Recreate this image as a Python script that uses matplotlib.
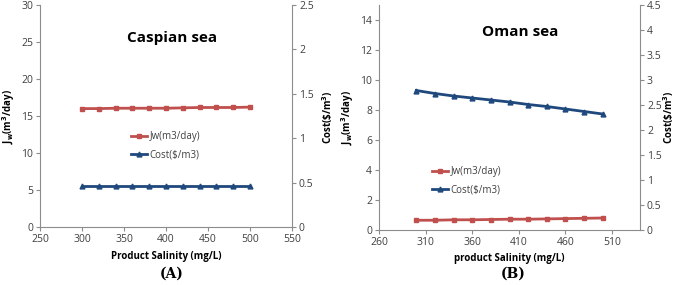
import numpy as np
import matplotlib
matplotlib.use("Agg")
from matplotlib import pyplot as plt

plt.rcParams['font.family'] = ['Open Sans', 'DejaVu Sans']

# salinity levels (mg/L)
salinity = [300, 320, 340, 360, 380, 400, 420, 440, 460, 480, 500]

# Caspian sea
caspian_jw = [16.0, 16.0, 16.05, 16.05, 16.05, 16.05, 16.1, 16.15, 16.15, 16.15, 16.2]
caspian_cost = [0.46, 0.46, 0.46, 0.46, 0.46, 0.46, 0.46, 0.46, 0.46, 0.46, 0.46]

# Oman sea
oman_jw = [0.65, 0.65, 0.68, 0.68, 0.70, 0.72, 0.72, 0.74, 0.76, 0.78, 0.80]
oman_cost = [2.79, 2.73, 2.68, 2.64, 2.60, 2.56, 2.51, 2.47, 2.42, 2.37, 2.32]

RED = "#C0504D"
BLUE = "#1F497D"
TICK_COLOR = "#404040"
SPINE_COLOR = "#8c8c8c"
W, H = 676, 285


def style_axis(ax):
    ax.spines["top"].set_visible(False)
    for side in ("left", "right", "bottom"):
        ax.spines[side].set_color(SPINE_COLOR)
        ax.spines[side].set_linewidth(0.8)
    ax.tick_params(direction="out", length=3, width=0.8, color=SPINE_COLOR,
                   labelsize=7.5, labelcolor=TICK_COLOR, pad=2)


def panel(rect, x, jw, cost, xlim, xticks, ylim1, yticks1, ylim2, yticks2,
          title, title_xy, xlabel, letter, letter_x, legend_xy, rlabel_x):
    ax1 = fig.add_axes(rect)
    ax2 = ax1.twinx()
    l1, = ax1.plot(x, jw, color=RED, lw=2, marker="s", ms=3.5, label="Jw(m3/day)")
    l2, = ax2.plot(x, cost, color=BLUE, lw=2, marker="^", ms=3.5, label="Cost($/m3)")
    ax1.set_xlim(*xlim)
    ax1.set_xticks(xticks)
    ax1.set_ylim(*ylim1)
    ax1.set_yticks(yticks1)
    ax2.set_ylim(*ylim2)
    ax2.set_yticks(yticks2)
    ax2.set_yticklabels([f"{v:g}" for v in yticks2])
    style_axis(ax1)
    style_axis(ax2)
    ax2.spines["left"].set_visible(False)
    ax2.spines["bottom"].set_visible(False)
    ax1.spines["right"].set_visible(False)
    ax1.set_xlabel(xlabel, fontsize=7, fontweight="bold", labelpad=4)
    ax1.set_ylabel(r"J$_\mathbf{w}$(m$^\mathbf{3}$/day)", fontsize=7, fontweight="bold", labelpad=3)
    fig.text(rlabel_x / W, 1 - 117 / H, r"Cost(\$/m$^\mathbf{3}$)", fontsize=7,
             fontweight="bold", rotation=90, ha="center", va="center")
    fig.text(title_xy[0] / W, 1 - title_xy[1] / H, title, fontsize=11, fontweight="bold",
             ha="center", va="center")
    fig.text(letter_x / W, 1 - 274 / H, letter, fontsize=10, fontweight="bold",
             family="DejaVu Serif", ha="center", va="center")
    ax2.legend([l1, l2], [l1.get_label(), l2.get_label()], loc="center left",
               bbox_to_anchor=(legend_xy[0] / W, 1 - legend_xy[1] / H),
               bbox_transform=fig.transFigure, frameon=False, fontsize=7,
               handlelength=1.6, handletextpad=0.3, labelspacing=0.75,
               borderpad=0, borderaxespad=0, labelcolor=TICK_COLOR)
    return ax1, ax2


fig = plt.figure(figsize=(W / 100, H / 100), dpi=100)

panel([40 / W, 1 - 227 / H, (292 - 40) / W, (227 - 5) / H],
      salinity, caspian_jw, caspian_cost,
      (250, 550), np.arange(250, 551, 50), (0, 30), np.arange(0, 31, 5),
      (0, 2.5), np.arange(0, 2.51, 0.5),
      "Caspian sea", (172, 38), "Product Salinity (mg/L)", "(A)", 172, (131, 146), 328)

panel([379 / W, 1 - 230 / H, (640 - 379) / W, (230 - 5) / H],
      salinity, oman_jw, oman_cost,
      (260, 540), np.arange(260, 511, 50), (0, 15), np.arange(0, 15, 2),
      (0, 4.5), np.arange(0, 4.51, 0.5),
      "Oman sea", (520, 32), "product Salinity (mg/L)", "(B)", 513, (432, 181), 669)

fig.savefig("out.png", dpi=100)
